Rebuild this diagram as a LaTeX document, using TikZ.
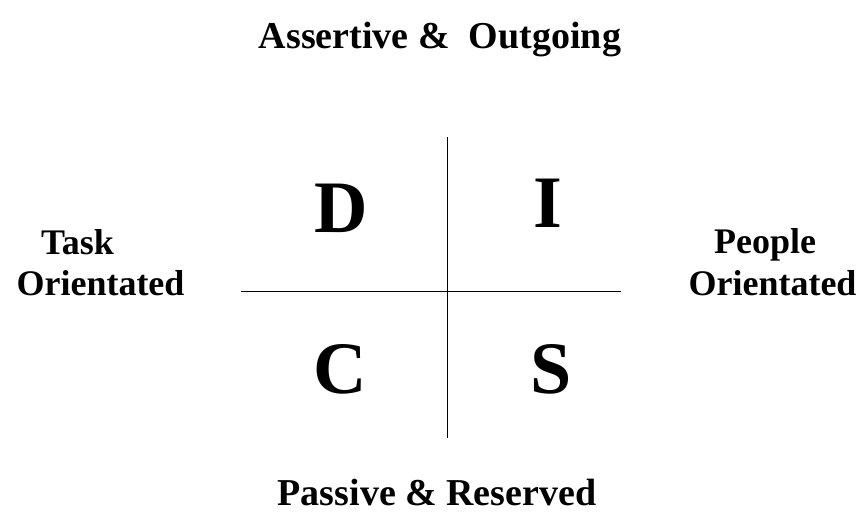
\documentclass[tikz,border=0pt]{standalone}
\usepackage{fontspec}
\setmainfont{Liberation Serif}
\begin{document}
\begin{tikzpicture}[x=1pt,y=-1pt,
  lbl/.style={font=\fontsize{38}{44}\selectfont\bfseries, inner sep=0pt, anchor=base},
  side/.style={font=\fontsize{36}{42}\selectfont\bfseries, inner sep=0pt, anchor=base},
  big/.style={font=\fontsize{74}{80}\selectfont\bfseries, inner sep=0pt},
  axis/.style={line width=1pt, black}]
\useasboundingbox (0,0) rectangle (859,515);
\node[lbl] (top) at (440,48) {Assertive \&\ \ Outgoing};
\node[lbl] (bot) at (437,505) {Passive \& Reserved};
\node[side] (task) at (77.5,254) {Task};
\node[side] (lor) at (100.5,295) {Orientated};
\node[side] (ppl) at (765,253) {People};
\node[side] (ror) at (772.5,295) {Orientated};
\coordinate (vt) at (447,137);
\coordinate (vb) at (447,438);
\coordinate (hl) at (241,291);
\coordinate (hr) at (621,291);
\draw[axis] (vt) -- (vb);
\draw[axis] (hl) -- (hr);
\node[big] (d) at (341,208) {D};
\node[big] (i) at (548,203) {I};
\node[big] (c) at (340,369) {C};
\node[big] (s) at (551,369) {S};
\end{tikzpicture}
\end{document}
